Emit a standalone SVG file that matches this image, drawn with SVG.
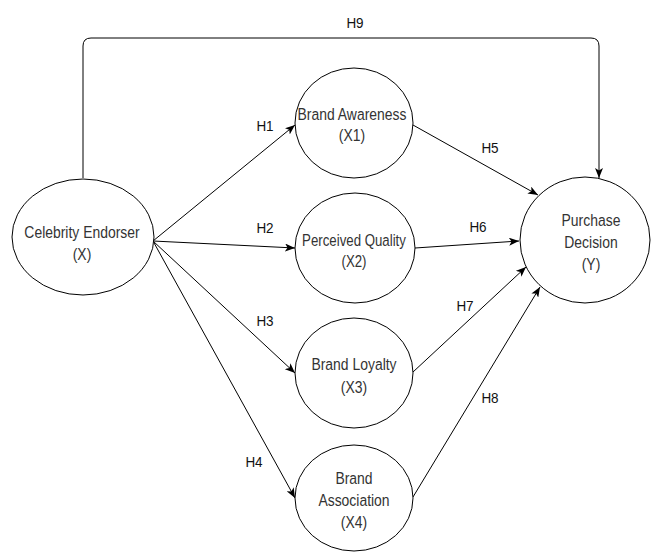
<svg xmlns="http://www.w3.org/2000/svg" width="651" height="552" viewBox="0 0 651 552">
<style>
.n{fill:#fff;stroke:#000;stroke-width:1}
.t{font-family:"Liberation Sans",Arial,sans-serif;font-size:17px;fill:#333;text-anchor:middle}
.e{fill:none;stroke:#000;stroke-width:1}
.l{font-family:"Liberation Sans",Arial,sans-serif;font-size:15px;fill:#111;text-anchor:middle}
</style>
<defs>
<marker id="a" viewBox="0 0 10 8" refX="10" refY="4" markerWidth="10" markerHeight="8" markerUnits="userSpaceOnUse" orient="auto">
<path d="M0,0 L10,4 L0,8 L2.5,4 Z" fill="#000"/>
</marker>
</defs>
<rect width="651" height="552" fill="#fff"/>
<g id="edges">
<path class="e" d="M83,178 V46 Q83,38 91,38 H591 Q599,38 599,46 V178" marker-end="url(#a)"/>
<path class="e" d="M153,241 L295,125" marker-end="url(#a)"/>
<path class="e" d="M153,241 L295,248" marker-end="url(#a)"/>
<path class="e" d="M153,241 L295,373" marker-end="url(#a)"/>
<path class="e" d="M153,241 L295,498" marker-end="url(#a)"/>
<path class="e" d="M413,125 L538,195" marker-end="url(#a)"/>
<path class="e" d="M415,248 L519,241" marker-end="url(#a)"/>
<path class="e" d="M413,372 L526,267" marker-end="url(#a)"/>
<path class="e" d="M413,497 L540,287" marker-end="url(#a)"/>
<text class="l" transform="translate(355,28) scale(0.9,1)">H9</text>
<text class="l" transform="translate(265,131) scale(0.9,1)">H1</text>
<text class="l" transform="translate(265,233) scale(0.9,1)">H2</text>
<text class="l" transform="translate(265,326) scale(0.9,1)">H3</text>
<text class="l" transform="translate(254,467) scale(0.9,1)">H4</text>
<text class="l" transform="translate(490,153) scale(0.9,1)">H5</text>
<text class="l" transform="translate(478,232) scale(0.9,1)">H6</text>
<text class="l" transform="translate(465,311) scale(0.9,1)">H7</text>
<text class="l" transform="translate(490,403) scale(0.9,1)">H8</text>
</g>
<g id="celebrity">
<ellipse class="n" cx="83" cy="237" rx="71" ry="58"/>
<g transform="translate(82,0) scale(0.82,1)">
<text class="t" x="0" y="238">Celebrity Endorser</text>
<text class="t" x="0" y="260">(X)</text>
</g>
</g>
<g id="awareness">
<ellipse class="n" cx="354" cy="123" rx="59" ry="55"/>
<g transform="translate(352,0) scale(0.82,1)">
<text class="t" x="0" y="120">Brand Awareness</text>
<text class="t" x="0" y="141">(X1)</text>
</g>
</g>
<g id="quality">
<ellipse class="n" cx="355" cy="248" rx="60" ry="55"/>
<g transform="translate(354,0) scale(0.78,1)">
<text class="t" x="0" y="246">Perceived Quality</text>
<text class="t" x="0" y="267">(X2)</text>
</g>
</g>
<g id="loyalty">
<ellipse class="n" cx="354" cy="373" rx="59" ry="55"/>
<g transform="translate(354,0) scale(0.82,1)">
<text class="t" x="0" y="370">Brand Loyalty</text>
<text class="t" x="0" y="393">(X3)</text>
</g>
</g>
<g id="association">
<ellipse class="n" cx="354" cy="498" rx="59" ry="53"/>
<g transform="translate(354,0) scale(0.82,1)">
<text class="t" x="0" y="484">Brand</text>
<text class="t" x="0" y="506">Association</text>
<text class="t" x="0" y="528">(X4)</text>
</g>
</g>
<g id="purchase">
<ellipse class="n" cx="585" cy="240" rx="65" ry="63"/>
<g transform="translate(591,0) scale(0.82,1)">
<text class="t" x="0" y="226">Purchase</text>
<text class="t" x="0" y="248">Decision</text>
<text class="t" x="0" y="270">(Y)</text>
</g>
</g>
</svg>
